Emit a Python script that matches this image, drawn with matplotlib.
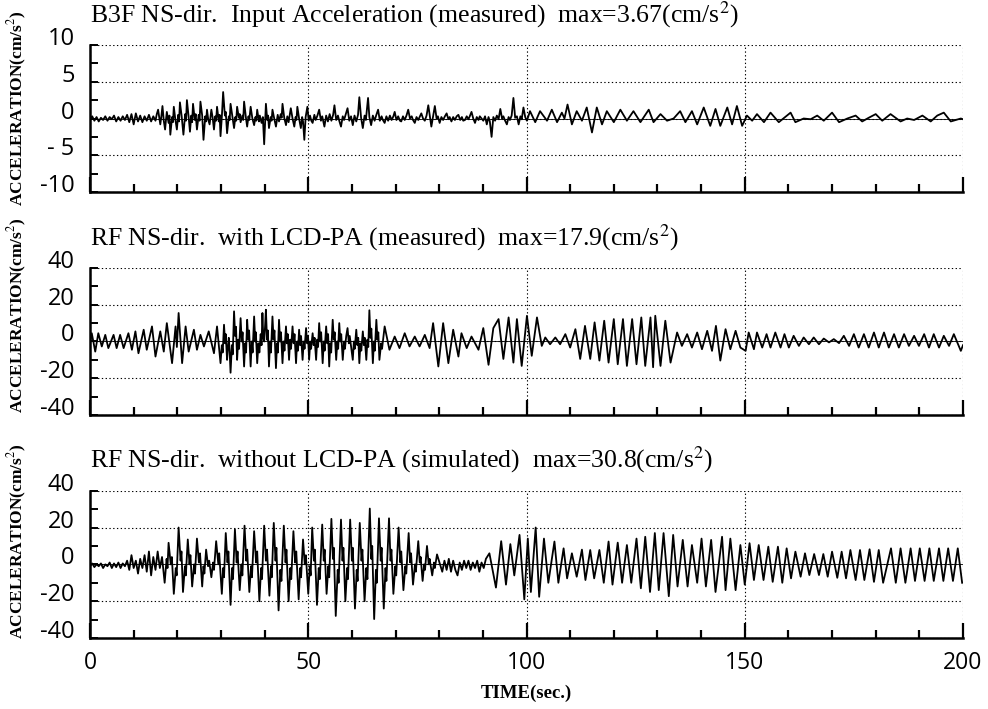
#!/usr/bin/env python3
import matplotlib

matplotlib.use("Agg")
import matplotlib.pyplot as plt
import matplotlib.transforms as mtransforms
from matplotlib.ticker import FixedLocator, MultipleLocator

# ========================================================================
#
# Data: (time [s], acceleration [cm/s2])
#
# ========================================================================
b3f_quiet = [
    (0, -0.2), (0.5, 0.3), (1, -0.3), (1.5, 0.2), (2, -0.4), (2.5, 0.1),
    (3, -0.2), (3.5, 0.3), (4, -0.3), (4.5, 0.2), (5, -0.1), (5.5, 0.4),
    (6, -0.4), (6.5, 0.2), (7, -0.3), (7.5, 0.3), (8, -0.2), (8.5, 0.5),
    (9, -0.5), (9.5, 0.6), (10, -0.8), (10.5, 0.7), (11, -0.4), (11.5, 0.4),
    (12, -0.5), (12.5, 0.3), (13, -0.3), (13.5, 0.5), (14, -0.4),
    (14.5, 0.3), (15, -0.3),
]
b3f_strong = [
    (15.3, 0.6), (15.6, 1.2), (15.85, 0.2), (16.1, -0.8), (16.35, 0.3),
    (16.6, 1.7), (16.9, -0.3), (17.2, -1.5), (17.4, -0.2), (17.6, 0.9),
    (18.0, -0.6), (18.2, 0.4), (18.4, -2.2), (18.8, 0.2), (19.0, -0.5),
    (19.2, 1.6), (19.5, 0.1), (19.9, -1.5), (20.2, 0.5), (20.4, -0.4),
    (20.6, 2.2), (21.0, 0.3), (21.4, -2.2), (21.8, 0.6), (22.0, -0.3),
    (22.2, 2.5), (22.6, 0.2), (22.9, -1.8), (23.2, 0.4), (23.4, -0.5),
    (23.6, 2.0), (24.0, -0.2), (24.2, 0.6), (24.5, -1.5), (24.9, 0.5),
    (25.1, -0.3), (25.3, 2.3), (25.7, 0.4), (26.0, -2.9), (26.4, 0.3),
    (26.6, -0.4), (26.8, 1.2), (27.1, -0.2), (27.4, -0.8), (27.6, 0.2),
    (27.8, 1.2), (28.1, 0.1), (28.4, -1.5), (28.7, 0.3), (28.9, -0.3),
    (29.1, 1.6), (29.5, -0.4), (29.7, 0.5), (29.9, -2.4), (30.2, 0.2),
    (30.5, 3.6), (30.9, 0.4), (31.1, 0.9), (31.4, -2.0), (31.8, 0.3),
    (32.0, -0.2), (32.2, 2.0), (32.6, 0.3), (33.0, -1.3), (33.3, 0.2),
    (33.5, -0.3), (33.7, 1.6), (34.1, 0.1), (34.3, 0.6), (34.5, -0.5),
    (34.9, 0.4), (35.1, -0.2), (35.3, 2.3), (35.7, 0.2), (36.0, -1.1),
    (36.3, 0.3), (36.5, -0.2), (36.8, 1.6), (37.2, 0.0), (37.6, -0.9),
    (37.9, 0.2), (38.1, -0.3), (38.3, 1.2), (38.7, -0.4), (38.9, 0.4),
    (39.3, -0.6), (39.6, 0.2), (39.9, -3.5), (40.3, 2.0), (40.6, -0.2),
    (40.8, 0.4), (41.0, -1.3), (41.4, 0.2), (41.6, -0.3), (41.8, 1.2),
    (42.2, 0.0), (42.6, -1.1), (43.0, 0.5), (43.3, -0.4), (43.7, 0.6),
    (43.9, 0.1), (44.1, 2.0), (44.5, 0.1), (44.9, -0.9), (45.2, 0.3),
    (45.5, -0.5), (45.7, 0.3), (46.0, 1.4), (46.4, 0.0), (46.8, -1.1),
    (47.1, 0.2), (47.3, -0.2), (47.5, 1.6), (47.9, 0.0), (48.3, -1.3),
    (48.6, 0.2), (48.8, -0.4), (49.1, -2.9), (49.4, 0.2), (49.8, 1.6),
    (50.1, -0.3), (50.4, 0.4), (50.7, -0.3),
]
b3f_middle = [
    (51.0, -0.6), (51.4, 0.5), (51.7, -0.2), (52.1, 0.4), (52.5, 1.2),
    (52.9, -0.3), (53.2, 0.3), (53.7, -1.1), (54.1, 0.4), (54.5, -0.4),
    (54.9, 0.6), (55.3, -0.3), (55.7, 0.5), (56.0, 1.8), (56.4, -0.2),
    (56.8, 0.4), (57.1, -0.3), (57.5, -1.1), (57.9, 0.3), (58.2, -0.2),
    (58.6, 0.6), (59.0, 1.4), (59.4, -0.3), (59.8, 0.3), (60.2, -0.9),
    (60.6, 0.4), (61.0, -0.4), (61.4, 0.5), (61.7, 2.9), (62.1, 0.1),
    (62.5, -1.3), (62.9, 0.4), (63.2, -0.2), (63.7, 2.8), (64.0, 0.2),
    (64.4, -0.9), (64.8, 0.4), (65.2, -0.3), (65.6, 0.5), (66.0, 1.2),
    (66.4, -0.3), (66.8, 0.3), (67.1, -0.2), (67.5, -0.6), (67.9, 0.3),
    (68.3, -0.3), (68.7, 0.4), (69.1, -0.2), (69.5, 0.3), (69.8, 0.9),
    (70.2, -0.2), (70.6, 0.3), (71.0, -0.3), (71.3, -0.4), (71.7, 0.3),
    (72.1, -0.2), (72.5, 0.4), (72.9, 1.2), (73.3, 0.0), (73.7, 0.3),
    (74.0, -0.2), (74.4, -0.6), (74.8, 0.2), (75.2, -0.2), (75.6, 0.3),
    (75.9, 0.7), (76.3, 0.0), (76.7, -0.3), (77.1, 0.4), (77.5, 1.8),
    (77.9, 0.2), (78.2, -1.1), (78.6, 0.3), (79.0, 1.7), (79.4, 0.0),
    (79.7, 0.3), (80.1, -0.6), (80.5, 0.2), (80.9, -0.2), (81.3, 0.3),
    (81.7, 0.7), (82.1, -0.1), (82.4, 0.2), (82.8, -0.4), (83.2, 0.2),
    (83.6, -0.2), (84.0, 0.3), (84.4, 0.5), (84.8, -0.2), (85.2, 0.2),
    (85.5, -0.3), (85.9, -0.2), (86.3, 0.3), (86.7, -0.1), (87.0, 0.3),
    (87.4, 0.9), (87.8, 0.0), (88.2, -0.6), (88.6, 0.2), (89.0, -0.2),
    (89.3, 0.3), (89.7, 0.0), (90.1, -0.3), (90.5, 0.3), (90.9, -0.8),
    (91.3, 0.2), (91.6, -0.4), (92.0, -2.5), (92.4, 0.2), (92.8, -0.3),
    (93.2, 0.4), (93.6, -0.1), (94.0, 1.3), (94.4, 0.0), (94.7, 0.3),
    (95.1, -0.3), (95.5, -0.8), (95.9, 0.2), (96.2, -0.2), (96.6, 0.4),
    (97.0, 2.8), (97.4, 0.1), (97.8, 0.3), (98.2, -0.8), (98.6, 0.3),
    (98.9, -0.1), (99.3, 1.5), (99.7, 0.2),
]
b3f_decay = [
    (100.1, -0.3), (100.8, 1.0), (102.0, -0.5), (103.1, 1.0), (104.7, -0.3),
    (105.8, 1.2), (107.0, -0.5), (108.1, 0.8), (108.7, 0.0), (109.4, 1.9),
    (110.4, -0.8), (111.5, 1.0), (112.7, -0.3), (113.8, 1.5), (115.0, -1.9),
    (116.1, 1.5), (117.3, -0.8), (118.4, 1.0), (120.0, -0.5), (121.5, 1.2),
    (123.0, -0.3), (124.5, 1.0), (126.1, -0.5), (128.0, 1.2), (129.1, -0.5),
    (130.7, 0.6), (132.2, -0.3), (133.7, 0.0), (135.2, 1.0), (136.4, -0.5),
    (137.9, 1.0), (139.1, -0.8), (140.6, 1.5), (142.1, -1.0), (143.3, 1.3),
    (144.4, -1.0), (146.0, 1.5), (147.1, -0.8), (148.2, 1.7), (149.4, -1.0),
    (150.5, 0.4), (151.7, -0.3), (152.8, 0.6), (154.4, -0.5), (155.9, 0.8),
    (157.8, -0.5), (160.5, 0.8), (161.6, -0.5), (163.5, 0.0), (165.1, -0.1),
    (166.6, 0.4), (168.1, -0.3), (170.0, 0.8), (171.6, -0.5), (173.5, 0.0),
    (175.4, 0.4), (176.9, -0.4), (178.4, 0.1), (180.0, 0.6), (181.5, -0.3),
    (183.4, 0.6), (185.7, -0.4), (187.2, 0.0), (188.8, -0.2), (190.7, 0.4),
    (192.6, -0.4), (194.1, 0.4), (195.6, 0.8), (197.2, -0.4), (199.5, 0.0),
    (200, -0.1),
]

rfw_onset = [
    (0, -1), (0.4, 4.5), (1.2, -5.5), (1.9, 4.5), (2.7, -2.7), (3.5, 3.6),
    (4.2, -3.6), (5.4, 3.6), (6.1, -3.6), (6.9, 3.6), (7.7, -3.6),
    (8.8, 4.5), (9.6, -4.5), (10.4, 5.5), (11.1, -6.4), (12.3, 6.4),
    (13.0, -4.5), (14.2, 8.2), (15.0, -8.2), (16.1, 5.5), (16.9, -5.5),
    (17.6, 10), (18.8, -11.8), (19.6, 8.2), (19.9, -3), (20.3, 15.5),
    (21.1, -11.8), (21.9, 8.2), (22.6, -5.5), (23.8, 6.4), (24.5, -4.5),
    (25.3, 3.6), (26.1, -2.7), (27.2, 5.5), (28.4, -6.4), (29.1, 8.2),
]
rfw_strong = [
    (29.9, -11.8), (30.2, -2), (30.4, -6), (30.7, 9.1), (30.95, -1),
    (31.1, 4), (31.4, -10), (31.6, -3), (31.8, 2), (32.0, -6), (32.2, -17),
    (32.5, -2), (32.7, -7), (33.0, 16.4), (33.25, 3), (33.45, 8),
    (33.7, -10), (33.95, 1), (34.15, -4), (34.5, 12.7), (34.75, 0),
    (34.95, 5), (35.3, -13.6), (35.55, -1), (35.75, -6), (36.0, 11.8),
    (36.25, 1), (36.45, 6), (36.8, -13.6), (37.05, 0), (37.25, -6),
    (37.6, 13.6), (37.85, 0), (38.0, 5), (38.3, -11.8), (38.6, -1),
    (38.8, -6), (39.1, 4), (39.3, -2), (39.5, 15.5), (39.7, 2), (39.9, 0),
    (40.1, 8), (40.3, 17.3), (40.55, 1), (40.75, 6), (41.0, -13.6),
    (41.25, 0), (41.45, -6), (41.8, 13.6), (42.05, 1), (42.25, 6),
    (42.6, -14.5), (42.85, -1), (43.05, -6), (43.3, 11.8), (43.55, 0),
    (43.75, 5), (44.1, -11.8), (44.35, 0), (44.55, -5), (44.9, 8.2),
    (45.1, -1), (45.3, 4), (45.6, -10), (45.85, 1), (46.05, -4),
    (46.4, 8.2), (46.65, -1), (46.85, 4), (47.2, -11.8), (47.45, 0),
    (47.65, -5), (47.9, 6.4), (48.15, -2), (48.35, 3), (48.7, -10),
    (48.95, 0), (49.15, -4), (49.5, 7.3), (49.75, -1), (49.95, 3),
    (50.2, -10), (50.45, 0), (50.65, -4), (51.0, 4.5), (51.25, -2),
    (51.45, 2), (51.8, -10), (52.05, 1), (52.25, -3), (52.5, 10),
    (52.75, 0), (52.95, 5), (53.3, -11.8), (53.55, 0), (53.75, -5),
    (54.1, 8.2), (54.35, -1), (54.55, 4), (54.8, -13.6), (55.05, -1),
    (55.25, -6), (55.6, 11.8), (55.85, 1), (56.05, 5), (56.4, -10),
    (56.65, 0), (56.85, -4), (57.1, 10), (57.35, 0), (57.55, 4),
    (57.9, -10), (58.2, 0), (58.4, -4), (58.7, 3), (59.0, 7.3), (59.3, -1),
    (59.5, 3), (60.2, -10), (60.45, 0), (60.65, -4), (61.0, 6.4),
    (61.25, -2), (61.45, 2), (61.7, -11.8), (61.95, -1), (62.15, -5),
    (62.5, 5.5), (62.75, -2), (62.95, 2), (63.3, -10), (63.55, 1),
    (63.75, -3), (64.0, 17), (64.25, 2), (64.45, 7), (64.8, -11.8),
    (65.05, 0), (65.25, -5), (65.6, 11.8), (65.85, 1), (66.05, 5),
    (66.3, -10), (66.7, -1), (66.9, -4), (67.5, 8.2),
]
rfw_late = [
    (68.6, -4.5), (69.8, 2.7), (70.9, -3.6), (72.1, 4.5), (73.2, -2.7),
    (74.4, 2.7), (75.5, -2.7), (76.7, 3.6), (77.8, -3.6), (78.6, 10),
    (79.8, -13.6), (80.9, 10), (82.1, -11.8), (83.2, 6.4), (84.4, -8.2),
    (85.1, 4.5), (86.3, -3.6), (87.4, 2.7), (89.0, -4.5), (90.1, 7.3),
    (91.3, -12.7), (92.4, 7.3), (93.6, 12.2), (94.7, -9.5), (95.9, 13.1),
    (97.0, -11.5), (97.8, 12.2), (98.9, -13.3), (100.1, 14), (101.2, -7.8),
    (102.4, 13.1), (103.5, -2.4), (104.3, 2.2), (105.4, -1.5), (106.6, 2.2),
    (107.7, -1.5), (108.9, 4), (110.0, -3.3), (111.2, 6.7), (112.3, -9.5),
    (113.4, 8.5), (114.6, -9.5), (115.6, 10.4), (116.7, -10.4),
    (117.8, 11.3), (118.8, -11.5), (120.0, 12.2), (120.9, -12.4),
    (122.1, 12.2), (123.0, -13.3), (124.2, 12.2), (125.2, -12.4),
    (126.3, 13.1), (127.2, -13.3), (128.4, 13.1), (129.0, -14), (129.5, 14),
    (130.7, -13.3), (131.8, 11.3), (133.0, -11.5), (134.5, 4.9),
    (135.6, -2.4), (136.8, 4), (137.9, -3.3), (139.1, 4.9), (140.2, -4.2),
    (141.4, 5.8), (142.5, -5.1), (143.4, 8.5), (144.4, -10.4), (145.6, 6.7),
    (146.7, -4.2), (147.9, 5.8), (149.0, -3.3), (150.2, -5.1), (150.9, 4.9),
    (152.1, -4.2), (152.8, 4.9), (154.0, -3.3), (155.0, 4), (155.9, -3.3),
    (157.0, 4.9), (158.2, -3.3), (159.1, 4), (160.1, -3.3), (161.2, 3.1),
    (162.4, -2.4), (163.5, 2.2), (164.7, -1.5), (165.8, 2.2), (167.0, -1.5),
    (168.1, 1.6), (169.3, -0.5), (170.4, 1.3), (171.6, -0.9), (172.7, 3.1),
    (173.9, -2.4), (175.0, 4), (176.1, -3.3), (177.3, 4), (178.4, -3.3),
    (179.6, 4.9), (180.7, -3.3), (181.9, 4.9), (183.0, -3.3), (184.2, 4),
    (185.3, -3.3), (186.5, 4), (187.6, -2.4), (188.8, 3.1), (189.9, -2.4),
    (191.1, 4), (192.2, -3.3), (193.3, 4), (194.5, -3.3), (195.6, 3.1),
    (196.8, -2.4), (197.9, 4), (199.5, -5.1), (200, -2),
]

rfo_quiet = [
    (0, -1), (0.5, 0.5), (1, -1.5), (1.5, 0), (2, -1), (2.5, 0.5), (3, -2),
    (3.5, 0), (4, -1), (4.5, 1), (5, -2), (5.5, 0.5), (6, -1.5), (6.5, 1),
    (7, -2), (7.5, 0.5), (8, -1), (8.5, 2), (9, -3), (9.5, 5), (10, -2),
    (10.5, 2), (11, -5), (11.5, 3), (12, -2), (12.5, 5), (13, -4),
    (13.5, 7), (14, -6), (14.5, 4), (15, -3), (15.5, 7), (16, -2),
    (16.5, 4),
]
rfo_strong = [
    (17.1, -10), (17.55, 3), (17.75, -2), (18.0, 11.7), (18.5, 0),
    (18.75, 4), (19.2, -16), (19.65, -2), (19.85, -6), (20.3, 20),
    (20.75, 2), (20.95, 7), (21.3, -15), (21.75, -1), (21.95, -6),
    (22.4, 13.5), (22.8, 0), (23.0, 5), (23.4, -12), (23.85, 0),
    (24.05, -5), (24.5, 14), (24.95, 1), (25.2, 6), (25.7, -12), (26.0, -1),
    (26.2, -5), (26.6, 8), (27.05, -1), (27.3, 2), (27.8, -7), (28.2, 1),
    (28.4, -3), (28.9, 12.6), (29.4, 0), (29.6, 6), (30.2, -16), (30.5, -2),
    (30.7, -7), (31.1, 17), (31.5, 1), (31.7, 7), (32.2, -22), (32.55, -2),
    (32.75, -8), (33.2, 19), (33.6, 1), (33.8, 7), (34.3, -14), (34.7, 0),
    (34.9, -6), (35.4, 21), (35.8, 2), (36.0, 8), (36.5, -15), (36.9, -1),
    (37.1, -7), (37.6, 18), (38.05, 1), (38.3, 7), (38.8, -20), (39.2, -2),
    (39.4, -8), (39.9, 21), (40.3, 2), (40.55, 8), (41.1, -17),
    (41.45, -1), (41.65, -7), (42.1, 22.5), (42.5, 2), (42.7, 9),
    (43.2, -25), (43.6, -3), (43.85, -9), (44.4, 21), (44.8, 1), (45.0, 8),
    (45.5, -20), (45.9, -2), (46.1, -8), (46.6, 18), (47.0, 1), (47.25, 7),
    (47.8, -19), (48.15, -2), (48.35, -7), (48.8, 13.5), (49.2, 0),
    (49.45, 5), (50.0, -16), (50.35, -1), (50.55, -6), (50.9, 20),
    (51.3, 2), (51.5, 8), (52.0, -22), (52.4, -2), (52.65, -8),
    (53.2, 21.6), (53.55, 2), (53.75, 8), (54.2, -16), (54.6, -1),
    (54.8, -7), (55.3, 24.7), (55.65, 3), (55.85, 9), (56.3, -28),
    (56.75, -3), (56.95, -10), (57.5, 24.3), (57.85, 2), (58.05, 9),
    (58.5, -20), (58.9, -2), (59.1, -8), (59.6, 24.3), (60.0, 2), (60.2, 9),
    (60.7, -24), (61.1, -3), (61.3, -9), (61.8, 22.5), (62.2, 2), (62.4, 8),
    (62.9, -20), (63.3, -2), (63.55, -8), (64.1, 30.3), (64.45, 3),
    (64.65, 10), (65.1, -29.7), (65.5, -3), (65.7, -10), (66.2, 25),
    (66.6, 2), (66.8, 9), (67.3, -24), (67.7, -2), (67.9, -9), (68.5, 25),
    (68.85, 2), (69.05, 8), (69.5, -16), (69.95, -1), (70.15, -6),
    (70.7, 20), (71.1, 1), (71.3, 7), (71.8, -14), (72.25, -1),
    (72.45, -5), (73.0, 17), (73.35, 1), (73.55, 6), (74.0, -11),
    (74.45, 0), (74.65, -4), (75.2, 12.6), (75.55, 1), (75.75, 4),
    (76.2, -9), (76.55, 0), (76.75, -3), (77.2, 10), (77.6, 0), (77.8, 3),
    (78.4, -6), (78.8, 1), (79.0, -2), (79.5, 5.4),
]
rfo_pause = [
    (80.7, -4), (81.2, 2), (81.7, -3), (82.2, 3), (82.7, -4), (83.2, 2),
    (83.7, -3), (84.2, -6), (84.7, 1), (85.2, -3), (85.7, 2), (86.2, -2),
    (86.7, 2), (87.2, -3), (87.7, 1), (88.2, -2), (88.7, 2), (89.2, -4),
    (89.7, 1), (90.2, -2), (90.7, 3), (91.5, 6),
]
rfo_late = [
    (93.0, -12.6), (94.2, 12.6), (95.3, -11), (96.3, 11), (97.2, -6),
    (98.4, 16), (99.5, -19), (100.3, 14), (101.0, -15), (102.1, 20),
    (102.9, -17.6), (104.0, 14), (105.0, -10), (106.4, 12.4), (107.3, -10),
    (108.5, 8.7), (109.3, -7.6), (110.4, 6), (111.5, -6.7), (112.7, 8),
    (113.5, -8.5), (114.6, 7.8), (115.5, -7.6), (116.7, 7.8), (117.7, -10),
    (118.8, 12.4), (119.7, -11), (120.9, 11.8), (121.9, -10), (123.0, 10.5),
    (124.0, -10), (125.2, 14), (126.2, -13), (127.2, 15), (128.3, -15),
    (129.4, 17), (130.3, -14), (131.4, 17), (132.6, -17.3), (133.6, 16),
    (134.6, -12), (135.8, 13.3), (136.9, -12), (137.9, 10.5), (139.1, -10),
    (140.1, 14), (141.1, -12), (142.3, 13.3), (143.3, -15), (144.8, 15),
    (145.6, -14), (146.7, 14), (147.9, -14), (149.0, 10.5), (150.0, -11),
    (151.1, 11.5), (152.1, -8.5), (153.2, 10.5), (154.3, -8.5), (155.4, 9.6),
    (156.4, -9.5), (157.6, 9.6), (158.6, -10), (159.6, 8.7), (160.6, -7.6),
    (161.6, 6.9), (162.8, -6.7), (163.8, 6), (164.8, -5.8), (165.9, 5.6),
    (167.0, -5.8), (168.0, 5.6), (169.0, -6.7), (170.0, 6.9), (171.2, -7.3),
    (172.2, 6.9), (173.2, -7.6), (174.2, 7.8), (175.4, -8.5), (176.4, 7.8),
    (177.4, -8.5), (178.6, 8.2), (179.6, -9.5), (180.7, 7.8), (181.7, -10),
    (183.5, 8.7), (184.6, -10), (185.7, 8.7), (186.8, -10), (188.0, 8.7),
    (189.0, -9), (190.1, 8.7), (191.2, -9), (192.3, 8.7), (193.3, -9),
    (194.5, 8.7), (195.5, -9), (196.6, 8.7), (197.7, -9), (198.8, 8.7),
    (199.8, -10),
]

titles = [
    r"B3F NS-dir.  Input Acceleration (measured)  max=3.67(cm/s$^{2}$)",
    r"RF NS-dir.  with LCD-PA (measured)  max=17.9(cm/s$^{2}$)",
    r"RF NS-dir.  without LCD-PA (simulated)  max=30.8(cm/s$^{2}$)",
]
ylims = [10, 40, 40]
ytick_vals = [[10, 5, 0, -5, -10], [40, 20, 0, -20, -40], [40, 20, 0, -20, -40]]
ytick_text = [
    ["10", "5", "0", "- 5", "-10"],
    ["40", "20", "0", "-20", "-40"],
    ["40", "20", "0", "-20", "-40"],
]
xtick_vals = [0, 50, 100, 150, 200]
xtick_text = ["0", "50", "100", "150", "200"]

# ========================================================================
#
# Plot
#
# ========================================================================
plt.rcParams["mathtext.fontset"] = "stix"
serif = "Liberation Serif"
sans = "Open Sans"

records = [
    b3f_quiet + b3f_strong + b3f_middle + b3f_decay,
    rfw_onset + rfw_strong + rfw_late,
    rfo_quiet + rfo_strong + rfo_pause + rfo_late,
]

fig = plt.figure(figsize=(9.88, 7.09), dpi=100)
boxes = [
    [0.0911, 0.7292, 0.8836, 0.2073],
    [0.0911, 0.4147, 0.8836, 0.2073],
    [0.0911, 0.1001, 0.8836, 0.2078],
]
ylab_y = [0.848, 0.556, 0.236]
lift = mtransforms.ScaledTranslation(0, 0.09, fig.dpi_scale_trans)

for k, box in enumerate(boxes):
    ax = fig.add_axes(box)
    t = [p[0] for p in records[k]]
    a = [p[1] for p in records[k]]
    ax.axhline(0, color="k", lw=0.6, zorder=1)
    ax.plot(t, a, color="k", lw=1.3, solid_joinstyle="round", zorder=2)

    ax.set_xlim(0, 200)
    ax.set_ylim(-ylims[k], ylims[k])

    for s in ["top", "right"]:
        ax.spines[s].set_visible(False)
    for s in ["left", "bottom"]:
        ax.spines[s].set_linewidth(1.8)

    ax.xaxis.set_major_locator(FixedLocator(xtick_vals))
    ax.xaxis.set_minor_locator(MultipleLocator(10))
    ax.yaxis.set_major_locator(FixedLocator(ytick_vals[k]))
    ax.yaxis.set_minor_locator(MultipleLocator(ylims[k] / 4))
    ax.grid(True, which="major", ls=(0, (1.2, 2.2)), color="k", lw=0.8)

    ax.tick_params(axis="x", which="major", direction="in", length=11,
                   width=1.6, pad=9)
    ax.tick_params(axis="x", which="minor", direction="in", length=6,
                   width=1.6)
    ax.tick_params(axis="y", which="both", direction="in", length=5.5,
                   width=1.4, pad=11)

    ax.set_yticklabels(ytick_text[k], fontsize=17, family=sans)
    for lab in ax.get_yticklabels():
        lab.set_transform(lab.get_transform() + lift)
    if k == 2:
        ax.set_xticklabels(xtick_text, fontsize=16.5, family=sans)
        ax.set_xlabel("TIME(sec.)", fontsize=13.5, family=serif,
                      fontweight="bold", labelpad=7)
    else:
        ax.set_xticklabels([])

    ax.text(0.0, 1.155, titles[k], transform=ax.transAxes, fontsize=18.5,
            family=serif, ha="left", va="baseline")
    fig.text(0.018, ylab_y[k], r"ACCELERATION(cm/s$^{2}$)", rotation=90,
             fontsize=12.5, family=serif, fontweight="bold",
             ha="center", va="center")

fig.savefig("out.png", dpi=100)
